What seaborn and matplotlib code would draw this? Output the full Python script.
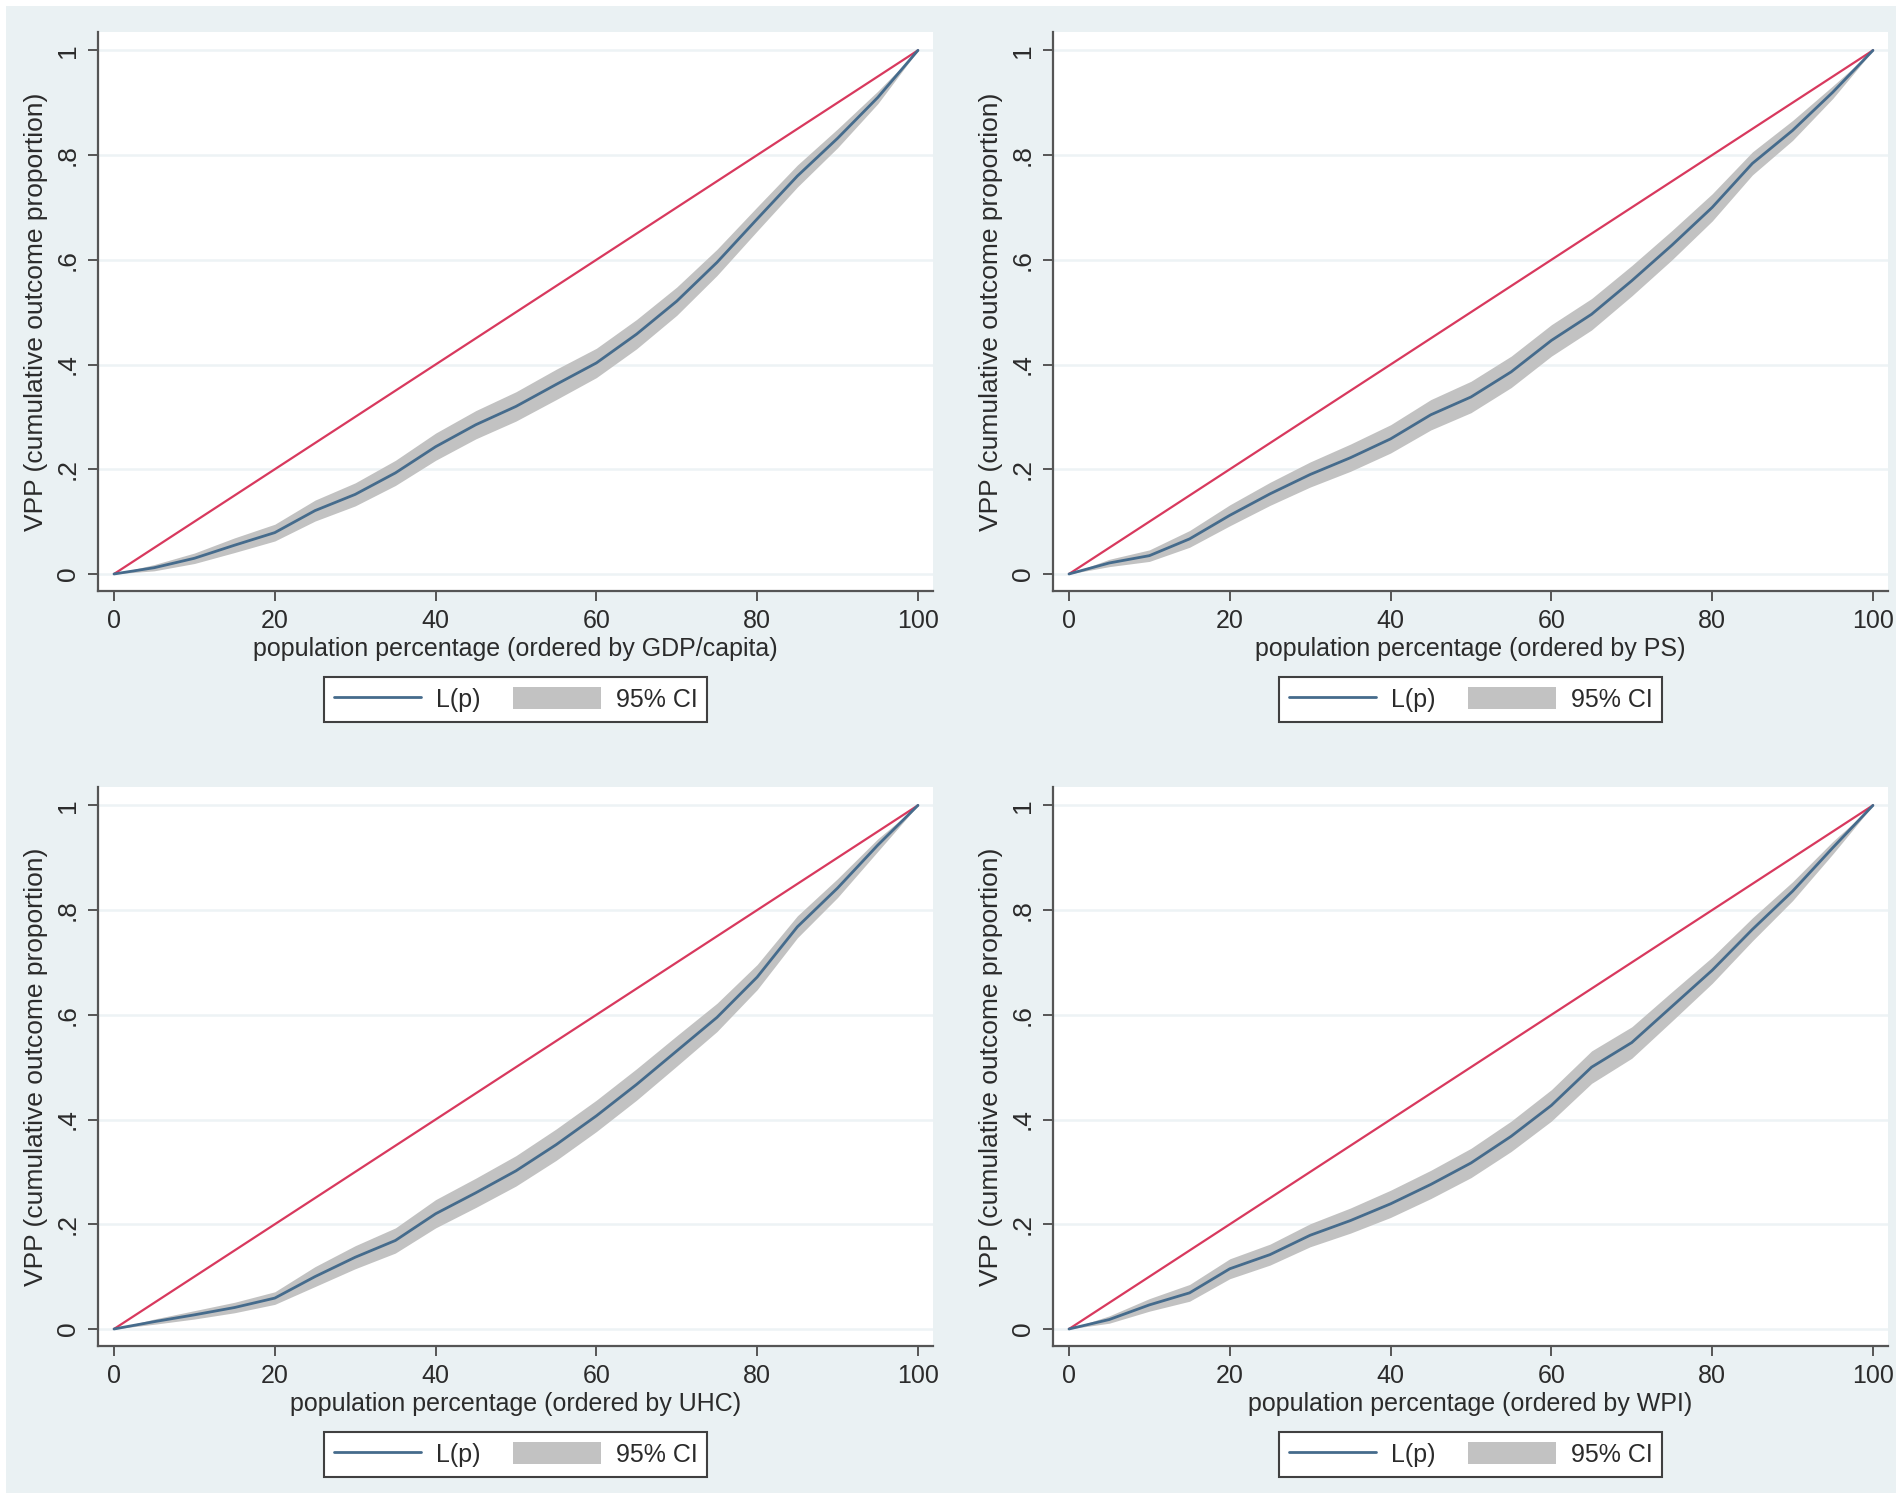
import numpy as np
import pandas as pd
import matplotlib
matplotlib.use("Agg")
import matplotlib.pyplot as plt
from matplotlib.lines import Line2D
from matplotlib.patches import Patch, Rectangle
import seaborn as sns

# ---------------- data ----------------
pop_pct = [0, 5, 10, 15, 20, 25, 30, 35, 40, 45, 50, 55, 60, 65, 70, 75, 80, 85, 90, 95, 100]

L_gdp = [0, .012, .030, .055, .079, .121, .152, .193, .243, .285, .320, .362, .403, .458, .521, .595, .678, .760, .832, .910, 1]
hw_gdp = [0, .006, .010, .014, .016, .020, .022, .024, .026, .027, .028, .029, .028, .028, .027, .025, .023, .021, .018, .012, 0]

L_ps = [0, .021, .035, .067, .112, .153, .190, .222, .258, .304, .338, .386, .446, .496, .560, .628, .700, .784, .847, .920, 1]
hw_ps = [0, .007, .011, .016, .020, .022, .024, .026, .027, .029, .030, .030, .030, .030, .029, .028, .026, .022, .019, .012, 0]

L_uhc = [0, .014, .027, .041, .059, .100, .137, .169, .220, .260, .302, .352, .407, .467, .531, .595, .672, .768, .842, .924, 1]
hw_uhc = [0, .005, .008, .010, .012, .019, .022, .024, .027, .028, .029, .030, .030, .030, .029, .027, .024, .021, .018, .012, 0]

L_wpi = [0, .018, .046, .069, .115, .142, .179, .207, .239, .276, .317, .368, .427, .500, .547, .616, .685, .763, .836, .919, 1]
hw_wpi = [0, .007, .012, .016, .019, .020, .022, .024, .026, .027, .028, .029, .030, .031, .030, .028, .025, .022, .018, .012, 0]

eq_x = [0, 100]
eq_y = [0, 1]

order_vars = ["GDP/capita", "PS", "UHC", "WPI"]
x_ticks = [0, 20, 40, 60, 80, 100]
x_ticklabels = ["0", "20", "40", "60", "80", "100"]
y_ticks = [0, .2, .4, .6, .8, 1]
y_ticklabels = ["0", ".2", ".4", ".6", ".8", "1"]
y_label = "VPP (cumulative outcome proportion)"
legend_labels = ["L(p)", "95% CI"]

series = [(L_gdp, hw_gdp), (L_ps, hw_ps), (L_uhc, hw_uhc), (L_wpi, hw_wpi)]

# ---------------- style ----------------
sns.set_theme(style="white")
plt.rcParams['font.family'] = ['Liberation Sans', 'DejaVu Sans']
FS_V = 19     # vertical text (y label, y ticks)
FS_H = 18     # horizontal text
TXT = "#2b2b2b"
BG = "#eaf1f3"
GRID = "#edf3f5"
RED = "#d8395e"
BLUE = "#456b8c"
BAND = "#c2c2c2"
SPINE = "#555555"

W, H = 1902, 1505
fig = plt.figure(figsize=(W / 100, H / 100), dpi=100)
fig.patch.set_facecolor("white")
fig.patches.append(Rectangle((6 / W, 12 / H), (1896 - 6) / W, (1499 - 12) / H,
                             transform=fig.transFigure, facecolor=BG, edgecolor="none", zorder=-10))

panel_px = [(98, 32), (1053, 32), (98, 787), (1053, 787)]
aw, ah = 835, 559

for (px, py), (L, hw), var in zip(panel_px, series, order_vars):
    ax = fig.add_axes([px / W, 1 - (py + ah) / H, aw / W, ah / H])
    ax.set_facecolor("white")
    L_arr = np.array(L)
    hw_arr = np.array(hw)
    df = pd.DataFrame({"p": pop_pct, "L": L})
    ax.fill_between(pop_pct, L_arr - hw_arr, L_arr + hw_arr, color=BAND, lw=0, zorder=2)
    sns.lineplot(x=eq_x, y=eq_y, ax=ax, color=RED, lw=1.6, zorder=3)
    sns.lineplot(data=df, x="p", y="L", ax=ax, color=BLUE, lw=2.0, zorder=4)

    ax.set_xlim(-1.99, 101.87)
    ax.set_ylim(-0.0325, 1.035)
    ax.set_xticks(x_ticks)
    ax.set_xticklabels(x_ticklabels)
    ax.set_yticks(y_ticks)
    ax.set_yticklabels(y_ticklabels, rotation=90, va="center")
    ax.yaxis.grid(True, color=GRID, lw=1.8, zorder=0)
    ax.xaxis.grid(False)
    for s in ["top", "right"]:
        ax.spines[s].set_visible(False)
    for s in ["left", "bottom"]:
        ax.spines[s].set_color(SPINE)
        ax.spines[s].set_linewidth(1.6)
    ax.tick_params(axis="both", direction="out", length=7, width=1.4, color=SPINE,
                   labelcolor=TXT, left=True, bottom=True)
    ax.tick_params(axis="x", pad=6, labelsize=FS_H)
    ax.tick_params(axis="y", pad=6, labelsize=FS_V)
    ax.set_xlabel(f"population percentage (ordered by {var})", fontsize=FS_H, color=TXT, labelpad=3)
    ax.set_ylabel(y_label, fontsize=FS_V, color=TXT, labelpad=6)

    handles = [Line2D([0], [0], color=BLUE, lw=2.0), Patch(facecolor=BAND, edgecolor="none")]
    leg = ax.legend(handles, legend_labels, loc="upper center",
                    bbox_to_anchor=(0.5, -(677 - 591) / ah), ncol=2, frameon=True,
                    fancybox=False, edgecolor="#404040", facecolor="white",
                    handlelength=3.5, handleheight=1.0, handletextpad=0.6,
                    columnspacing=1.3, borderpad=0.4, borderaxespad=0,
                    fontsize=FS_H, framealpha=1)
    leg.get_frame().set_linewidth(1.5)
    for t in leg.get_texts():
        t.set_color(TXT)

fig.savefig("out.png", dpi=100, facecolor=fig.get_facecolor())
